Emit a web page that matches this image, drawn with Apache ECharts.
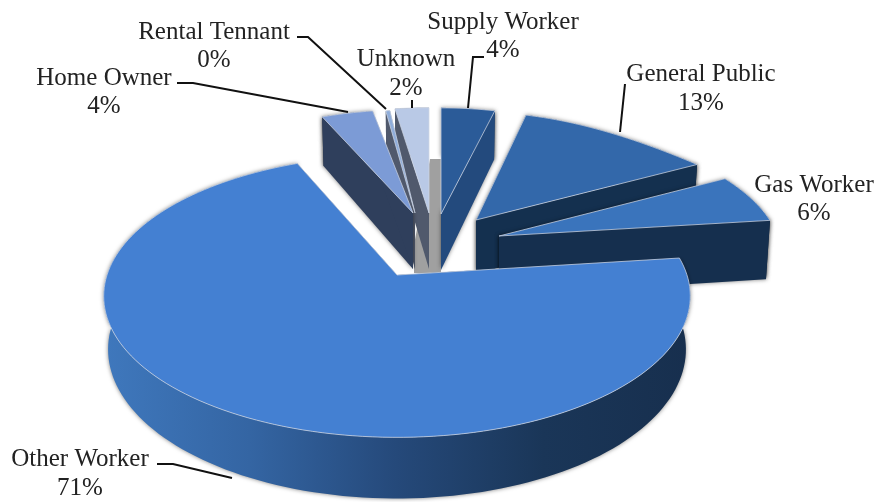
<!DOCTYPE html>
<html>
<head>
<meta charset="utf-8">
<style>html,body{margin:0;padding:0;background:#fff}#c{width:874px;height:502px}</style>
<script src="https://cdn.jsdelivr.net/npm/echarts@6/dist/echarts.min.js"></script>
</head>
<body>
<div id="c"></div>
<script>
// Data
var categories = ['Supply Worker','General Public','Gas Worker','Other Worker','Home Owner','Rental Tennant','Unknown'];
var shares = [4.0, 13.0, 6.0, 70.6, 3.6, 0.4, 2.4];

// Styling, one row per category
var topColors  = ['#2b5b98','#3368aa','#3a74bc','#4480d2','#7c9bd6','#8fadda','#b9c9e6'];
var wallColors = ['#234a7d','#14304f','#152f4e','#1a3557','#2f3f5c','#50596c','#50596c'];
var paintOrder = [4,5,6,7,3,2,1];
var startWallShadow = [true,true,true,false,true,false,false];
var endWallShadow   = [true,true,true,false,false,false,false];
var outerWallShadow = [true,true,true,true,true,false,false];

// Per-slice projection of the exploded 3D pie: apex, radii, perspective, thickness
var frames = [
  {cx:441,cy:214,R:246,Rs:121,kx:.14,ky:.14,d:56},
  {cx:476,cy:220,R:338,Rs:123,kx:.705,ky:.14,d:54},
  {cx:499,cy:236,R:279,Rs:127,kx:.17,ky:.14,d:60},
  {cx:397,cy:275,R:290,Rs:138,kx:.15,ky:.15,d:52},
  {cx:413,cy:213,R:262,Rs:118,kx:.14,ky:.14,d:56},
  {cx:415,cy:213,R:190,Rs:118,kx:.14,ky:.14,d:56},
  {cx:429,cy:213,R:258,Rs:120,kx:.14,ky:.14,d:56}
];
// Label placement: name centre, percent centre, leader line
var labels = [
  {x:503,y:22,py:50,line:[[484,57],[473,57],[468,108]]},
  {x:701,y:74,py:103,line:[[625,84],[620,132]]},
  {x:814,y:185,py:213,line:null},
  {x:80,y:459,py:488,line:[[157,464],[173,464],[232,478]]},
  {x:104,y:78,py:106,line:[[177,83],[193,83],[348,112]]},
  {x:214,y:32,py:60,line:[[297,37],[308,37],[386,109]]},
  {x:406,y:59,py:88,line:[[412,100],[412,108]]}
];
var centreShadow = [[430,159],[441,159],[441,273],[414,273],[414,245]];

var total = shares.reduce(function(a,b){return a+b;},0);
var starts = [], acc = 0;
shares.forEach(function(s){ starts.push(acc/total*Math.PI*2); acc += s; });

function project(f,a){
  var u=Math.sin(a), v=Math.cos(a);
  return [f.cx+f.R*u/(1+f.kx*v), f.cy-f.Rs*v/(1+f.ky*v)];
}
function drop(f,a,p){
  var v=a===null?0:Math.cos(a);
  return [f.cx+(p[0]-f.cx)*0.985, p[1]+f.d/(1+0.15*v)];
}
function shadowIf(on){ return on?{shadowBlur:4,shadowColor:'rgba(0,0,0,.5)'}:{}; }
function renderSlice(params,api){
  var i=params.dataIndex, f=frames[i], value=api.value(1);
  var a0=starts[i], a1=a0+value/total*Math.PI*2;
  var n=Math.max(2,Math.ceil((a1-a0)/0.03)), arc=[], under=[];
  for(var k=0;k<=n;k++){
    var a=a0+(a1-a0)*k/n, p=project(f,a);
    arc.push(p); under.push(drop(f,a,p));
  }
  var apex=[f.cx,f.cy], apexB=drop(f,null,apex);
  var base=paintOrder[i]*10;
  var wallFill = i===3 ? {type:'linear',x:103,y:0,x2:690,y2:0,global:true,colorStops:[
      {offset:0,color:'#3f78bd'},{offset:.25,color:'#3465a3'},{offset:.5,color:'#25497a'},
      {offset:.75,color:'#1a3658'},{offset:1,color:'#172f4e'}]} : wallColors[i];
  var kids=[
    {type:'polygon',z2:base,shape:{points:arc.concat(under.slice().reverse())},
     style:Object.assign({fill:wallFill},shadowIf(outerWallShadow[i]))},
    {type:'polygon',z2:base+1,shape:{points:[apex,arc[0],under[0],apexB]},
     style:Object.assign({fill:wallColors[i]},shadowIf(startWallShadow[i]))},
    {type:'polygon',z2:base+1,shape:{points:[apex,arc[n],under[n],apexB]},
     style:Object.assign({fill:wallColors[i]},shadowIf(endWallShadow[i]))},
    {type:'polygon',z2:base+2,shape:{points:[apex].concat(arc)},
     style:{fill:topColors[i],stroke:'rgba(205,213,228,.75)',lineWidth:1,lineJoin:'round'}}
  ];
  var l=labels[i], font='25px "Liberation Serif", serif';
  kids.push({type:'text',z2:200,style:{text:api.value(2),x:l.x,y:l.y,align:'center',verticalAlign:'middle',fill:'#222',font:font}});
  kids.push({type:'text',z2:200,style:{text:Math.round(value/total*100)+'%',x:l.x,y:l.py,align:'center',verticalAlign:'middle',fill:'#222',font:font}});
  if(l.line) kids.push({type:'polyline',z2:201,shape:{points:l.line},style:{fill:'none',stroke:'#111',lineWidth:2}});
  return {type:'group',children:kids};
}
var chart=echarts.init(document.getElementById('c'),null,{renderer:'canvas'});
chart.setOption({
  animation:false,
  backgroundColor:'#fff',
  graphic:[{type:'polygon',z:-1,shape:{points:centreShadow},style:{fill:'#a0a0a0'}}],
  series:[{
    type:'custom',
    coordinateSystem:'none',
    renderItem:renderSlice,
    encode:{itemName:2,value:1},
    data:categories.map(function(c,i){return [i,shares[i],c];})
  }]
});
</script>
</body>
</html>
